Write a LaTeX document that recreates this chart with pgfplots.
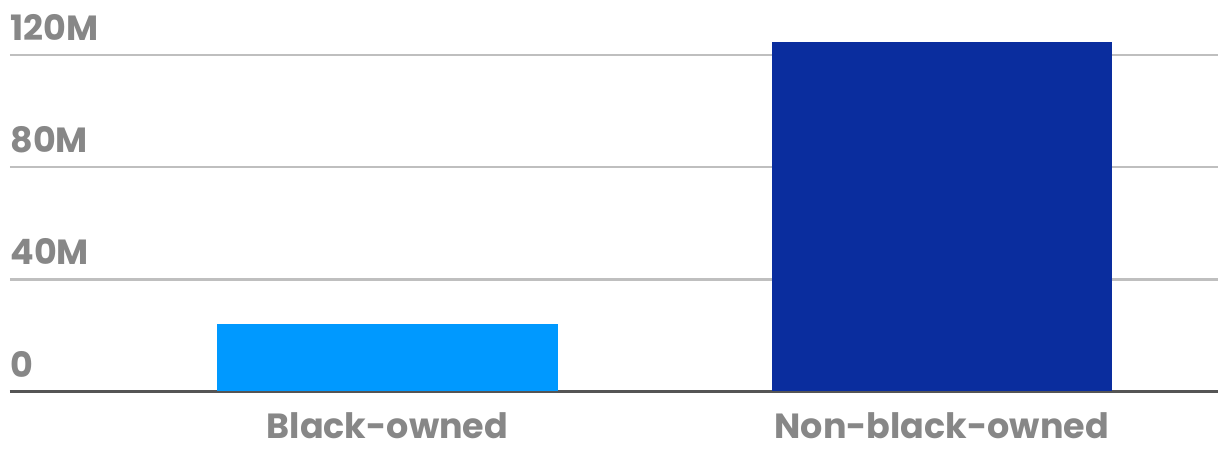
\documentclass[border=0pt]{standalone}
\usepackage{pgfplots}
\pgfplotsset{compat=1.18}
\usepackage{fontspec}
\setmainfont{Poppins}
\definecolor{lblue}{HTML}{0099FF}
\definecolor{navy}{HTML}{0A2D9E}
\definecolor{lbl}{HTML}{878787}
\definecolor{grid}{HTML}{858585}
\definecolor{base}{HTML}{555555}
\begin{document}
\begin{tikzpicture}
\begin{axis}[
  name=ax,
  at={(0,0)}, anchor=south west,
  scale only axis,
  width=605pt, height=196pt,
  xmin=-0.681, xmax=1.499,
  ymin=0, ymax=139.6,
  axis x line=bottom,
  axis y line=left,
  x axis line style={-, base, line width=1.6pt},
  y axis line style={draw=none},
  xtick={0,1},
  xticklabels={Black-owned,Non-black-owned},
  x tick label style={font=\bfseries\fontsize{17.5}{17.5}\selectfont, text=lbl, anchor=north, yshift=-7pt},
  ytick={0,40,80,120},
  yticklabels={0,40M,80M,120M},
  ymajorgrids, xmajorgrids=false,
  grid style={grid, line width=1.2pt},
  major tick length=0pt,
  y tick label style={font=\bfseries\fontsize{17.5}{17.5}\selectfont, text=lbl, anchor=south west, inner sep=0pt, yshift=7pt, xshift=0pt},
  clip=false,
]
\addplot[ybar, bar shift=0pt, bar width=170.5pt, fill=lblue, draw=none] coordinates {(0,24.2)};
\addplot[ybar, bar shift=0pt, bar width=170.5pt, fill=navy, draw=none] coordinates {(1,124.7)};
\end{axis}
\path (ax.south west) ++(-5pt,-30pt) coordinate (bb);
\path (bb) rectangle (ax.north east);
\end{tikzpicture}
\end{document}
